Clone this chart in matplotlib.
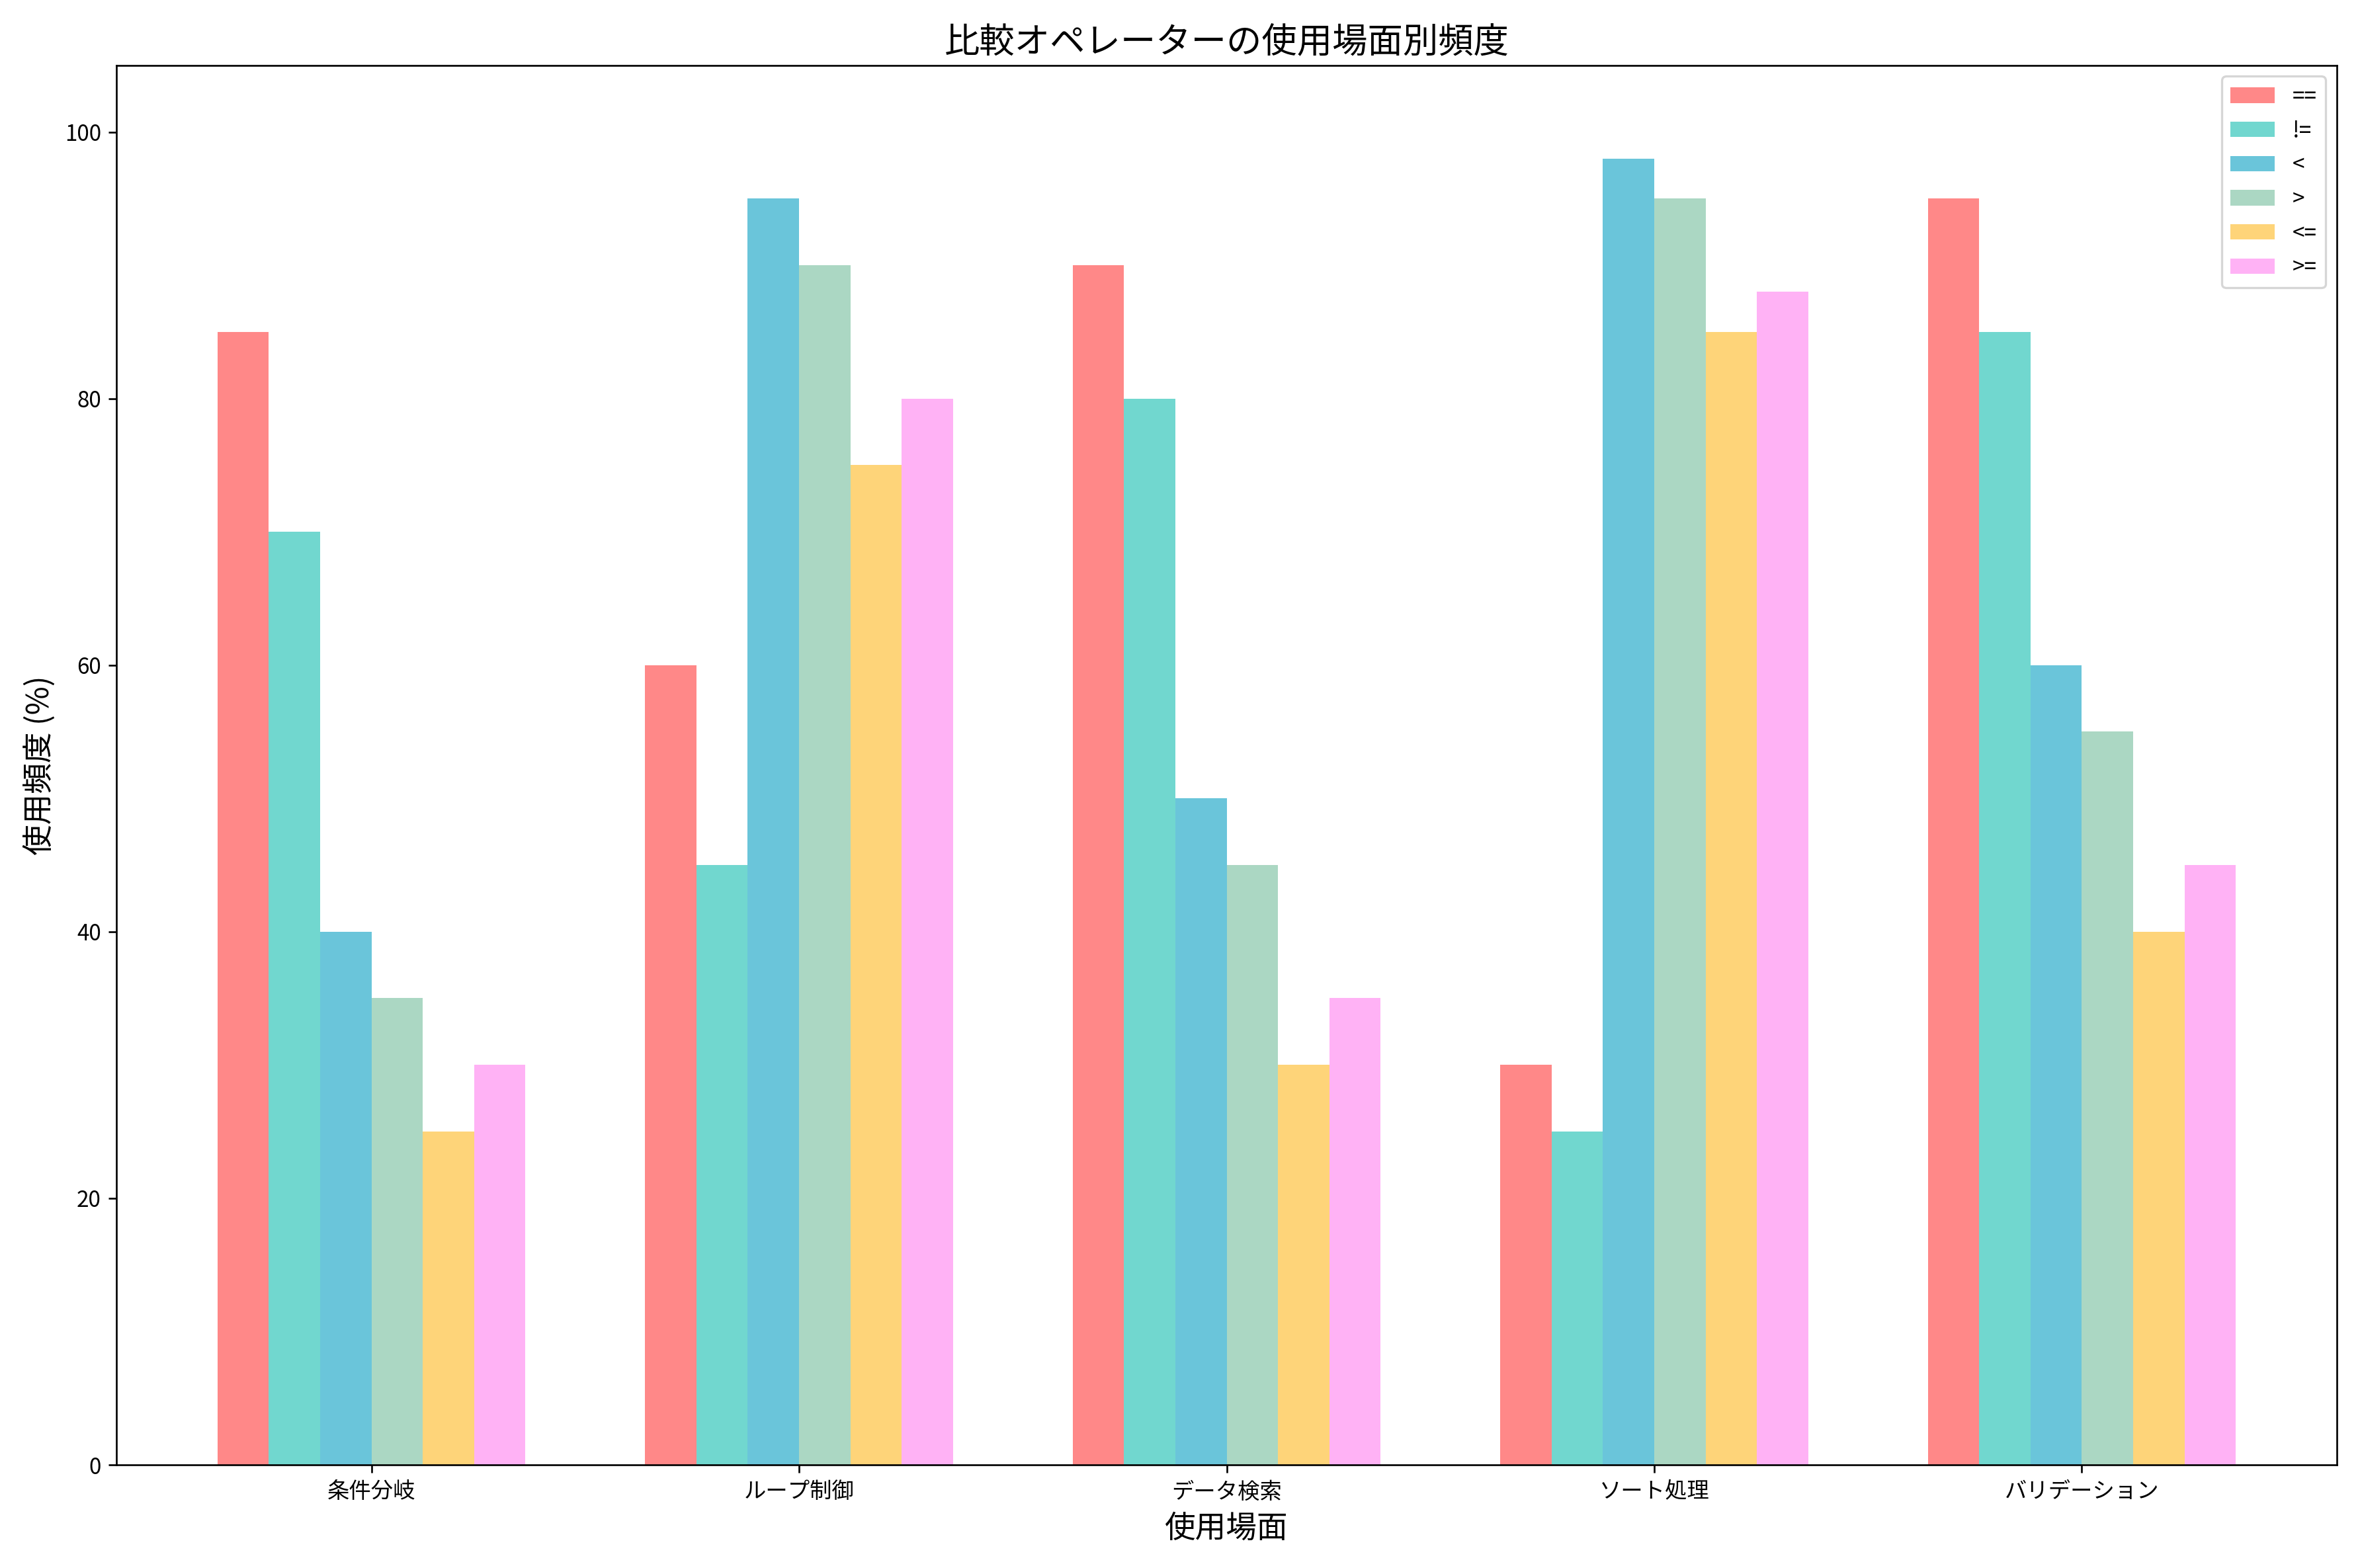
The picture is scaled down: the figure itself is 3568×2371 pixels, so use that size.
import numpy as np
import matplotlib.pyplot as plt

plt.rcParams['font.family'] = 'Noto Sans CJK JP'

scenes = ['条件分岐', 'ループ制御', 'データ検索', 'ソート処理', 'バリデーション']
operators = ['==', '!=', '<', '>', '<=', '>=']
values = [
    [85, 60, 90, 30, 95],   # ==
    [70, 45, 80, 25, 85],   # !=
    [40, 95, 50, 98, 60],   # <
    [35, 90, 45, 95, 55],   # >
    [25, 75, 30, 85, 40],   # <=
    [30, 80, 35, 88, 45],   # >=
]
colors = ['#FF6B6B', '#4ECDC4', '#45B7D1', '#96CEB4', '#FECA57', '#FF9FF3']

fig, ax = plt.subplots(figsize=(14.87, 9.88), dpi=240)
x = np.arange(len(scenes))
width = 0.12
for i, (op, vals) in enumerate(zip(operators, values)):
    ax.bar(x + (i - 2.5) * width, vals, width, label=op, color=colors[i], alpha=0.8)

ax.set_xticks(x)
ax.set_xticklabels(scenes)
ax.set_xlabel('使用場面', fontsize=14)
ax.set_ylabel('使用頻度 (%)', fontsize=14)
ax.set_title('比較オペレーターの使用場面別頻度', fontsize=16)
ax.set_ylim(0, 105)
ax.legend(loc='upper right')
fig.tight_layout()
fig.savefig('out.png')
